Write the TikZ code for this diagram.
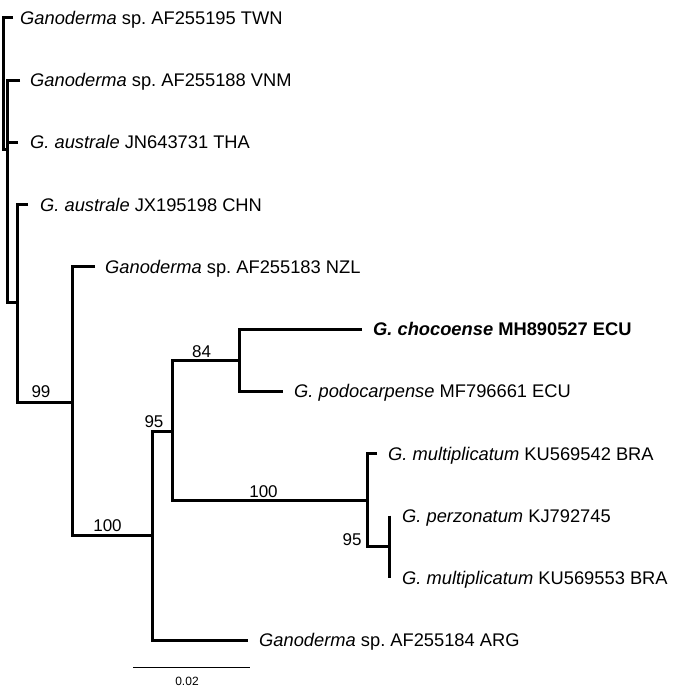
\documentclass[tikz,border=0pt]{standalone}
\usepackage{fontspec}
\setmainfont{Liberation Sans}
\frenchspacing
\begin{document}
\begin{tikzpicture}[x=1pt,y=-1pt,
  br/.style={line width=3pt,line cap=butt,line join=miter},
  lab/.style={anchor=base west,inner sep=0pt,font=\fontsize{18.3}{20}\selectfont},
  boot/.style={anchor=base,inner sep=0pt,font=\fontsize{17}{19}\selectfont},
  scl/.style={anchor=base,inner sep=0pt,font=\fontsize{12}{14}\selectfont}]
\useasboundingbox (0,0) rectangle (687,687);
% leaf ends
\coordinate (l1) at (13,18);
\coordinate (l2) at (20,80.2);
\coordinate (l3) at (18,142.4);
\coordinate (l4) at (28,204.6);
\coordinate (l5) at (95,266.8);
\coordinate (l6) at (362,329);
\coordinate (l7) at (283,391.2);
\coordinate (l8) at (377,453.4);
\coordinate (l9) at (389,515.6);
\coordinate (l10) at (389,577.8);
\coordinate (l11) at (248,640);
% internal nodes
\coordinate (R) at (3,150);
\coordinate (A) at (7.5,150);
\coordinate (B) at (17,302.5);
\coordinate (C) at (72,402);
\coordinate (D) at (152,535);
\coordinate (E) at (172,431);
\coordinate (F) at (239,360.1);
\coordinate (G) at (367,500);
\coordinate (H) at (389,546.7);
% branches
\draw[br] (l1) -| (R) -- (A);
\draw[br] (l2) -| (A) |- (B);
\draw[br] (l3) -- (l3 -| A);
\draw[br] (l4) -| (B) |- (C);
\draw[br] (l5) -| (C) |- (D);
\draw[br] (E) -| (D) |- (l11);
\draw[br] (F) -| (E) |- (G);
\draw[br] (l6) -| (F) |- (l7);
\draw[br] (l8) -| (G) |- (H);
\draw[br] (l9) -- (l10);
% leaf labels
\node[lab] (t1) at (20,24.6) {\textit{Ganoderma} sp. AF255195 TWN};
\node[lab] (t2) at (30,86.8) {\textit{Ganoderma} sp. AF255188 VNM};
\node[lab] (t3) at (30,149) {\textit{G. australe} JN643731 THA};
\node[lab] (t4) at (40,211.2) {\textit{G. australe} JX195198 CHN};
\node[lab] (t5) at (105,273.4) {\textit{Ganoderma} sp. AF255183 NZL};
\node[lab] (t6) at (373,335.6) {\textbf{\textit{G. chocoense} MH890527 ECU}};
\node[lab] (t7) at (294,397.8) {\textit{G. podocarpense} MF796661 ECU};
\node[lab] (t8) at (388,460) {\textit{G. multiplicatum} KU569542 BRA};
\node[lab] (t9) at (402,522.2) {\textit{G. perzonatum} KJ792745};
\node[lab] (t10) at (402,584.4) {\textit{G. multiplicatum} KU569553 BRA};
\node[lab] (t11) at (259,646.6) {\textit{Ganoderma} sp. AF255184 ARG};
% bootstrap values
\node[boot] (b99) at (41,397) {99};
\node[boot] (b100a) at (107.5,531) {100};
\node[boot] (b95a) at (154,427) {95};
\node[boot] (b84) at (201.5,357) {84};
\node[boot] (b100b) at (263.5,497) {100};
\node[boot] (b95b) at (352,545) {95};
% scale bar
\coordinate (s1) at (133,667);
\coordinate (s2) at (250,667);
\draw[line width=1pt] (s1) -- (s2);
\node[scl] (sl) at (187,685.5) {0.02};
\end{tikzpicture}
\end{document}
